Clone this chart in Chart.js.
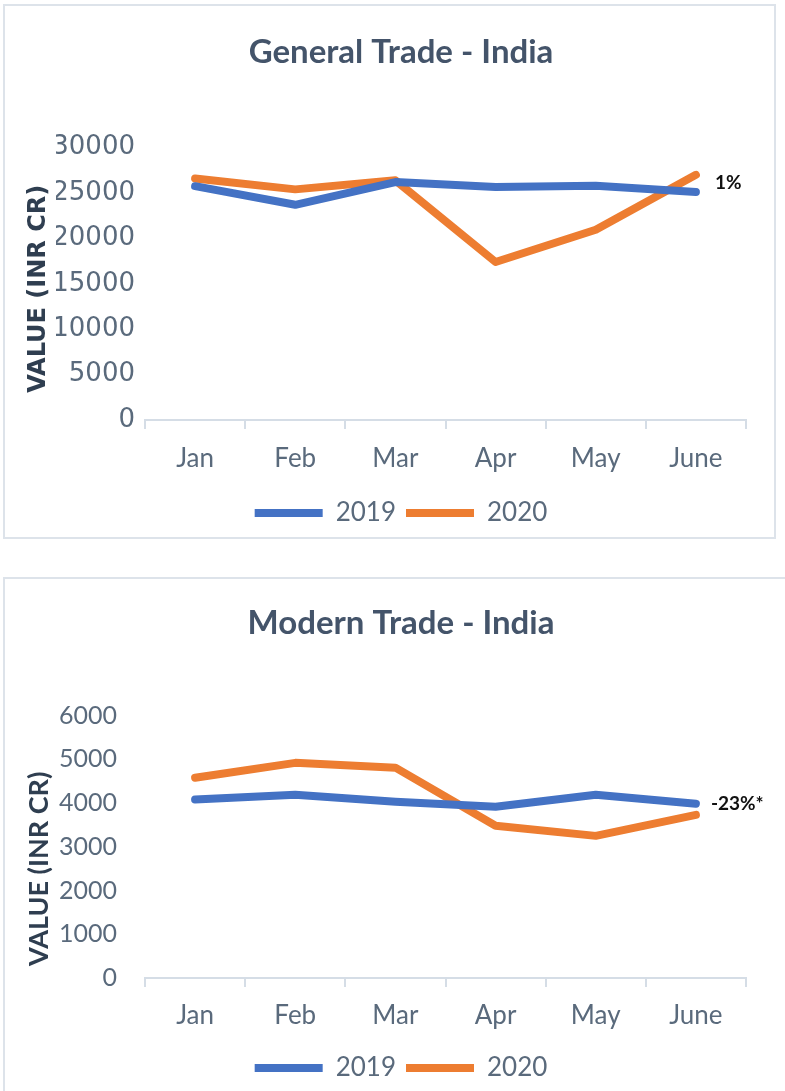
<!DOCTYPE html>
<html>
<head>
<meta charset="utf-8">
<script src="https://cdn.jsdelivr.net/npm/chart.js@4.4.1/dist/chart.umd.min.js"></script>
<style>
  html, body { margin: 0; padding: 0; background: #fff; }
  body { position: relative; width: 785px; height: 1091px; overflow: hidden; }
  .panel { position: absolute; border: 2px solid #dde3ea; box-sizing: border-box; }
  .box { position: absolute; left: 0; width: 785px; }
</style>
</head>
<body>
<div class="panel" style="left:3px; top:4px; width:773px; height:535px;"></div>
<div class="panel" style="left:3px; top:577px; width:800px; height:600px;"></div>
<div class="box" style="top:0; height:545px;"><canvas id="generalChart"></canvas></div>
<div class="box" style="top:559px; height:532px;"><canvas id="modernChart"></canvas></div>

<script>
// --- data ---
const months = ['Jan', 'Feb', 'Mar', 'Apr', 'May', 'June'];
const seriesNames = ['2019', '2020'];

const general2019 = [25750, 23700, 26200, 25650, 25800, 25100];
const general2020 = [26600, 25400, 26400, 17400, 20950, 27000];
const generalTicks = [0, 5000, 10000, 15000, 20000, 25000, 30000];

const modern2019 = [4080, 4190, 4030, 3915, 4190, 3985];
const modern2020 = [4580, 4920, 4810, 3480, 3250, 3730];
const modernTicks = [0, 1000, 2000, 3000, 4000, 5000, 6000];

const seriesColors = ['#4472c4', '#ed7d31'];
const inkColor = '#44546a';
const tickColor = '#5a6a7c';
const axisColor = '#d5dde6';

// y axis title (overlaps the tick labels like the original) + growth note
const sideTextPlugin = {
    id: 'sideText',
    afterDraw(chart, args, opts) {
        const { ctx, chartArea } = chart;
        ctx.save();
        ctx.font = opts.titleFont;
        ctx.fillStyle = '#2f3e50';
        ctx.textAlign = 'center';
        ctx.textBaseline = 'middle';
        ctx.translate(opts.titleX, (chartArea.top + chartArea.bottom) / 2 + opts.titleDy);
        ctx.rotate(-Math.PI / 2);
        ctx.fillText(opts.title, 0, 0);
        ctx.restore();

        const meta = chart.getDatasetMeta(0);
        const last = meta.data[meta.data.length - 1];
        ctx.save();
        ctx.font = opts.noteFont;
        ctx.fillStyle = '#111';
        ctx.textAlign = 'left';
        ctx.textBaseline = 'middle';
        ctx.fillText(opts.note, last.x + opts.noteDx, last.y + opts.noteDy);
        ctx.restore();
    }
};

function makeChart(canvasId, cfg) {
    const ctx = document.getElementById(canvasId).getContext('2d');
    return new Chart(ctx, {
        type: 'line',
        data: {
            labels: months,
            datasets: cfg.series.map((values, i) => ({
                label: seriesNames[i],
                data: values,
                borderColor: seriesColors[i],
                backgroundColor: seriesColors[i],
                borderWidth: 8,
                borderCapStyle: 'round',
                borderJoinStyle: 'round',
                pointRadius: 0,
                tension: 0
            }))
        },
        options: {
            responsive: true,
            maintainAspectRatio: false,
            animation: false,
            layout: { padding: { left: 56, right: 39, top: 0, bottom: cfg.bottomPad } },
            plugins: {
                title: {
                    display: true,
                    text: cfg.title,
                    color: inkColor,
                    font: { family: 'Lato', size: 33, weight: 'bold' },
                    padding: { top: cfg.titleTop, bottom: cfg.titleBottom }
                },
                legend: {
                    display: true,
                    position: 'bottom',
                    labels: {
                        usePointStyle: true,
                        pointStyle: 'line',
                        pointStyleWidth: 68,
                        color: tickColor,
                        font: { family: 'Lato', size: 26 },
                        padding: 10
                    }
                },
                tooltip: { enabled: false },
                sideText: {
                    title: 'VALUE (INR CR)',
                    titleFont: cfg.yTitleFont,
                    titleX: 39,
                    titleDy: cfg.yTitleDy,
                    note: cfg.note,
                    noteFont: 'bold 19px Lato',
                    noteDx: cfg.noteDx,
                    noteDy: cfg.noteDy
                }
            },
            scales: {
                x: {
                    offset: true,
                    grid: {
                        offset: true,
                        drawOnChartArea: false,
                        drawTicks: true,
                        tickLength: 9,
                        color: axisColor,
                        lineWidth: 2
                    },
                    border: { display: true, color: axisColor, width: 2 },
                    ticks: {
                        color: tickColor,
                        font: { family: 'Lato', size: 26 },
                        padding: cfg.xLabelPad,
                        maxRotation: 0
                    },
                    afterFit: (scale) => { scale.height = cfg.xHeight; }
                },
                y: {
                    min: cfg.ticks[0],
                    max: cfg.ticks[cfg.ticks.length - 1],
                    grid: { display: false, drawTicks: false },
                    border: { display: false },
                    afterBuildTicks: (scale) => {
                        scale.ticks = cfg.ticks.map(v => ({ value: v }));
                    },
                    ticks: {
                        color: tickColor,
                        font: cfg.tickFont,
                        padding: cfg.tickPad,
                        callback: (v) => String(v)
                    },
                    afterFit: (scale) => { scale.width = 89; }
                }
            }
        },
        plugins: [sideTextPlugin]
    });
}

makeChart('generalChart', {
    title: 'General Trade - India',
    series: [general2019, general2020],
    ticks: generalTicks,
    tickFont: { family: 'DejaVu Sans', size: 26 },
    tickPad: 10,
    titleTop: 33,
    titleBottom: 75,
    bottomPad: 9,
    xHeight: 70,
    xLabelPad: 14,
    yTitleFont: 'bold 24px "DejaVu Sans"',
    yTitleDy: 5,
    note: '1%',
    noteDx: 19,
    noteDy: -9
});

makeChart('modernChart', {
    title: 'Modern Trade - India',
    series: [modern2019, modern2020],
    ticks: modernTicks,
    tickFont: { family: 'Lato', size: 25 },
    tickPad: 28,
    titleTop: 45,
    titleBottom: 72,
    bottomPad: 0,
    xHeight: 67,
    xLabelPad: 13,
    yTitleFont: 'bold 27px Lato',
    yTitleDy: 22,
    note: '-23%*',
    noteDx: 15,
    noteDy: 0
});
</script>
</body>
</html>
